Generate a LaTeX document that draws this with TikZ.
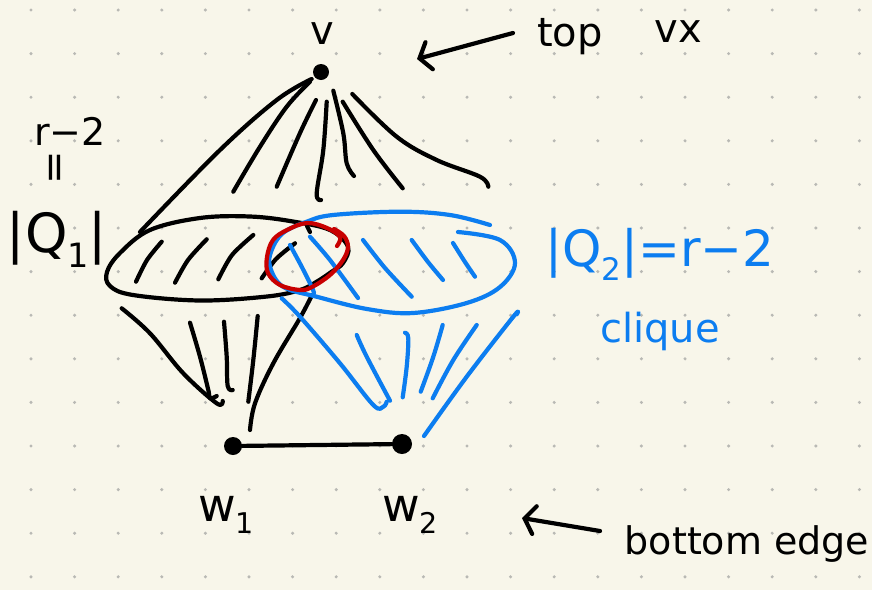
\documentclass[tikz,border=0pt]{standalone}
\usepackage{fontspec}
\setmainfont{DejaVu Sans}
\usetikzlibrary{arrows.meta}
\definecolor{paper}{RGB}{248,246,234}
\definecolor{gdot}{RGB}{185,185,180}
\definecolor{qblue}{RGB}{12,125,240}
\definecolor{qred}{RGB}{200,0,0}
\tikzset{
  ink/.style={line width=4.2pt, line cap=round, line join=round},
  blk/.style={ink, draw=black},
  blu/.style={ink, draw=qblue},
  rd/.style={ink, draw=qred},
  lab/.style={inner sep=0pt, anchor=base},
  barb/.style={blk, -{Straight Barb[length=10pt,width=28pt,line cap=round]}},
}
\newcommand{\fs}[1]{\fontsize{#1}{#1}\selectfont}
\newcommand{\sbs}[1]{\raisebox{-0.28em}{\scalebox{0.62}{#1}}}
\begin{document}
\begin{tikzpicture}[x=1pt,y=-1pt]
% paper
\fill[paper] (0,0) rectangle (872,590);
\useasboundingbox (0,0) rectangle (872,590);
\foreach \i in {0,...,19}{
  \foreach \j in {0,...,13}{
    \fill[gdot] ({31+43.6*\i},{10+43.6*\j}) circle (1.7);
  }
}

% vertices
\node[fill=black, circle, minimum size=16pt, inner sep=0pt] (v) at (321,72) {};
\node[fill=black, circle, minimum size=18pt, inner sep=0pt] (w1) at (233,446) {};
\node[fill=black, circle, minimum size=20pt, inner sep=0pt] (w2) at (402,444) {};
\draw[blk] (w1) -- (w2);

% labels
\node[lab] (vl) at (322,44) {\fs{40}v};
\node[lab] (topl) at (570,46) {\fs{40}top};
\node[lab] (vxl) at (678,42) {\fs{40}vx};
\coordinate (ta) at (513,33);
\coordinate (tb) at (417,59);
\draw[barb] (ta) -- (tb);

\node[lab] (rl) at (70,145) {\fs{38}r−2};
\node[rotate=90, inner sep=0pt] (eql) at (58,168) {\fs{40}=};
\node[lab] (q1) at (57,252) {\fs{54}|Q\sbs{1}|};

\node[lab, text=qblue] (q2) at (660,266) {\fs{50}|Q\sbs{2}|=r−2};
\node[lab, text=qblue] (cl) at (660,342) {\fs{40}clique};

\node[lab] (w1l) at (226,521) {\fs{46}w\sbs{1}};
\node[lab] (w2l) at (410,521) {\fs{46}w\sbs{2}};
\node[lab] (bel) at (747,554) {\fs{38}bottom edge};
\coordinate (ba) at (600,531);
\coordinate (bb) at (522,518);
\draw[barb] (ba) -- (bb);

% fan from v
\draw[blk] plot[smooth, tension=0.6] coordinates {(311.7,79) (276.7,100) (220,150) (140,232)};
\draw[blk] plot[smooth, tension=0.6] coordinates {(310,81.7) (286.7,106.7) (260,146.7) (233.3,191.7)};
\draw[blk] plot[smooth, tension=0.6] coordinates {(316,100) (300,133) (276.7,186.7)};
\draw[blk] plot[smooth, tension=0.6] coordinates {(326.7,101.7) (323.3,150) (316.7,193.3) (321,200)};
\draw[blk] plot[smooth, tension=0.6] coordinates {(333.3,90.7) (343.3,133.3) (346.7,163.3) (354,176)};
\draw[blk] plot[smooth, tension=0.6] coordinates {(342.7,101.7) (373.3,150) (402.7,188.3)};
\draw[blk] plot[smooth, tension=0.6] coordinates {(352.3,94) (396.7,136.7) (436.7,160) (480,176.7) (488.3,186.7)};

% Q1 black ellipse
\draw[blk] plot[smooth cycle, tension=0.6] coordinates {(107,272) (120,253) (150,230) (200,218) (250,216.5) (293,221.5) (330,230) (348,246.7) (343,263) (331.7,271.7) (316.7,281.7) (300,290) (267,296.5) (200,300.5) (133,295) (110,286)};
\draw[blk] (307,226) -- (310,232);
% Q1 hatch
\draw[blk] plot[smooth] coordinates {(161.7,241.7) (147,260) (136,281.7)};
\draw[blk] plot[smooth] coordinates {(206.7,239.3) (188,260) (175,282.7)};
\draw[blk] plot[smooth] coordinates {(253.3,235) (232,255) (218.3,279.3)};
\draw[blk] plot[smooth] coordinates {(295,243.3) (276,259) (261.7,278.3)};

% lower black lines
\draw[blk] plot[smooth, tension=0.6] coordinates {(121.7,308.3) (150,333.3) (183.3,373.3) (216.7,403.3) (222.7,401)};
\draw[blk] plot[smooth, tension=0.6] coordinates {(190,322.7) (200,356.7) (208.3,390) (210,398.3) (216.7,396)};
\draw[blk] plot[smooth, tension=0.6] coordinates {(224,321.7) (226.7,356.7) (227.7,386) (232.7,390)};
\draw[blk] plot[smooth, tension=0.6] coordinates {(257.7,316) (253.3,360) (248.3,401.7)};
\draw[blk] plot[smooth, tension=0.6] coordinates {(312,295) (300,318) (273.3,363.3) (255,403.3) (250,430)};

% Q2 blue ellipse
\draw[blu] plot[smooth, tension=0.6] coordinates {(490,225) (450,215) (400,211.7) (333,215) (306.7,221.7) (283,233) (271.7,250) (270,266.7) (283,286.7) (316.7,296.7) (367,309) (413,313) (466.7,303) (500,287) (515,263) (500,240) (458,232)};
% Q2 hatch
\draw[blu] plot[smooth] coordinates {(290,245) (301.7,266.7) (311.7,286.7) (314,293)};
\draw[blu] plot[smooth] coordinates {(310,236.7) (330,260) (358,298)};
\draw[blu] plot[smooth] coordinates {(363,240) (385,268) (411.7,296.7)};
\draw[blu] plot[smooth] coordinates {(411.7,240) (428,262) (443,280)};
\draw[blu] plot[smooth] coordinates {(453,243) (465,262) (475,276.7)};

% lower blue lines
\draw[blu] plot[smooth, tension=0.6] coordinates {(281.7,298.3) (300,316.7) (340,363.3) (373.3,405) (383.3,406.7) (386.7,401.7)};
\draw[blu] plot[smooth, tension=0.6] coordinates {(356.7,335) (366.7,356.7) (390,400.7)};
\draw[blu] plot[smooth, tension=0.6] coordinates {(405,332.7) (408.3,338.3) (406.7,366.7) (402.7,397.3)};
\draw[blu] plot[smooth, tension=0.6] coordinates {(442.7,325) (433.3,356.7) (420.7,391.7)};
\draw[blu] plot[smooth, tension=0.6] coordinates {(476.7,325) (453.3,360) (432.7,398.3)};
\draw[blu] plot[smooth, tension=0.6] coordinates {(516.7,314.3) (513.3,316.7) (466.7,376.7) (424,436)};

% red circle
\draw[rd] plot[smooth, tension=0.6] coordinates {(337,246) (340,237) (327,228) (307,223) (287,230) (273,240) (267,257) (268,273) (280,285) (300,290) (312,287) (330,275) (343,260) (348,247) (344,236) (334,229)};
\end{tikzpicture}
\end{document}
